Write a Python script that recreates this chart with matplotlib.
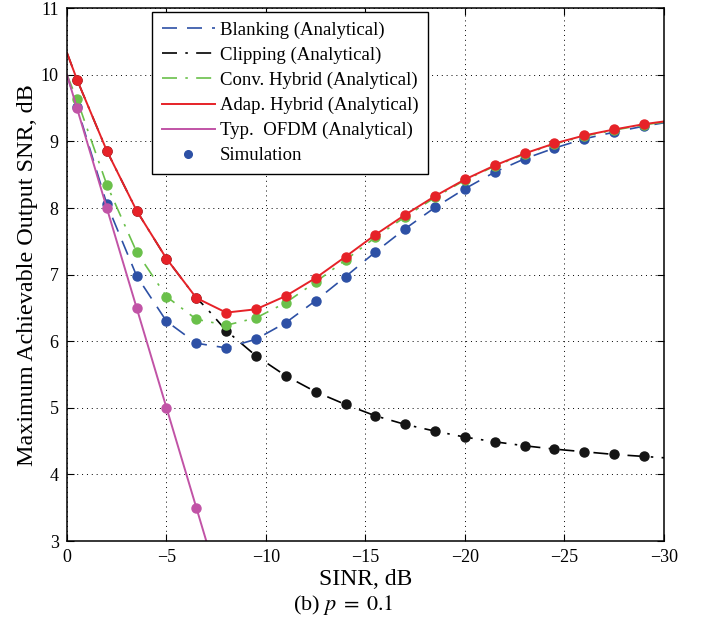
import numpy as np
import matplotlib
matplotlib.use("Agg")
import matplotlib.pyplot as plt

plt.rcParams['font.family'] = ['Liberation Serif', 'DejaVu Serif']
plt.rcParams['mathtext.fontset'] = 'stix'

# simulation grid (SINR in dB)
sinr_sim = [-0.5, -2, -3.5, -5, -6.5, -8, -9.5, -11, -12.5, -14,
            -15.5, -17, -18.5, -20, -21.5, -23, -24.5, -26, -27.5, -29]

# values at the simulation points
adap_sim = [9.93, 8.86, 7.96, 7.24, 6.65, 6.43, 6.48, 6.68, 6.95, 7.27,
            7.60, 7.90, 8.18, 8.43, 8.64, 8.82, 8.97, 9.09, 9.18, 9.26]
blank_sim = [9.52, 8.06, 6.98, 6.30, 5.97, 5.90, 6.03, 6.28, 6.61, 6.97,
             7.34, 7.69, 8.01, 8.29, 8.54, 8.74, 8.90, 9.04, 9.14, 9.23]
conv_sim = [9.63, 8.35, 7.34, 6.67, 6.33, 6.24, 6.35, 6.58, 6.89, 7.22,
            7.56, 7.87, 8.16, 8.42, 8.63, 8.81, 8.96, 9.08, 9.17, 9.25]
clip_sim = [9.93, 8.86, 7.96, 7.24, 6.65, 6.16, 5.78, 5.48, 5.24, 5.05,
            4.88, 4.75, 4.65, 4.56, 4.49, 4.43, 4.38, 4.34, 4.30, 4.27]
ofdm_x = [-0.5, -2, -3.5, -5, -6.5]
ofdm_sim = [9.5, 8.0, 6.5, 5.0, 3.5]

# analytical curves: same grid plus the ends of the axis
sinr_ana = [0] + sinr_sim + [-30]
adap_ana = [10.33] + adap_sim + [9.30]
blank_ana = [10.0] + blank_sim + [9.28]
conv_ana = [10.0] + conv_sim + [9.29]
clip_ana = [10.33] + clip_sim[:5] + [6.50] + clip_sim[5:] + [4.25]
clip_ana_x = [0] + sinr_sim[:5] + [-7] + sinr_sim[5:] + [-30]
ofdm_ana_x = [0, -0.5, -2, -3.5, -5, -6.5, -7]
ofdm_ana = [10.0, 9.5, 8.0, 6.5, 5.0, 3.5, 3.0]

c_blue = '#2d50a5'
c_green = '#6ac04a'
c_red = '#e62228'
c_mag = '#c153a6'

dashdot = (0, (9, 5, 1.5, 5))
dashed = (0, (9, 6))

fig = plt.figure(figsize=(7.01, 6.35), dpi=100)
ax = fig.add_axes([0.0956, 0.148, 0.8515, 0.839])

ms = 6.5
ax.plot(clip_ana_x, clip_ana, color='black', ls=dashdot, lw=1.2,
        label='Clipping (Analytical)')
ax.plot(sinr_sim, clip_sim, 'o', color='#151515', ms=ms)
ax.plot(sinr_ana, blank_ana, color=c_blue, ls=dashed, lw=1.2,
        label='Blanking (Analytical)')
ax.plot(sinr_sim, blank_sim, 'o', color=c_blue, ms=ms)
ax.plot(sinr_ana, conv_ana, color=c_green, ls=dashdot, lw=1.2,
        label='Conv. Hybrid (Analytical)')
ax.plot(sinr_sim, conv_sim, 'o', color=c_green, ms=ms)
ax.plot(sinr_ana, adap_ana, color=c_red, ls='-', lw=1.4,
        label='Adap. Hybrid (Analytical)')
ax.plot(sinr_sim, adap_sim, 'o', color=c_red, ms=ms)
ax.plot(ofdm_ana_x, ofdm_ana, color=c_mag, ls='-', lw=1.4,
        label='Typ.  OFDM (Analytical)')
ax.plot(ofdm_x, ofdm_sim, 'o', color=c_mag, ms=ms)
ax.plot([], [], 'o', color=c_blue, ms=5.5, label='Simulation')

ax.set_xlim(0, -30)
ax.set_ylim(3, 11)
ax.set_xticks(np.arange(0, -31, -5))
ax.set_yticks(np.arange(3, 12, 1))
ax.tick_params(direction='in', top=True, right=True, labelsize=13, length=5, pad=6)
ax.grid(True, color='black', ls=(0, (1, 4)), lw=0.7)
for s in ax.spines.values():
    s.set_linewidth(1.1)

ax.set_xlabel('SINR, dB', fontsize=17, labelpad=2)
ax.set_ylabel('Maximum Achievable Output SNR, dB', fontsize=17.4, labelpad=2)

handles, labels = ax.get_legend_handles_labels()
order = ['Blanking (Analytical)', 'Clipping (Analytical)', 'Conv. Hybrid (Analytical)',
         'Adap. Hybrid (Analytical)', 'Typ.  OFDM (Analytical)', 'Simulation']
hmap = dict(zip(labels, handles))
leg = ax.legend([hmap[l] for l in order], order, loc='upper left',
                bbox_to_anchor=(0.143, 0.993), borderaxespad=0, fontsize=13.5,
                fancybox=False, edgecolor='black', framealpha=1,
                handlelength=2.85, handletextpad=0.25, labelspacing=0.42,
                borderpad=0.5)
leg.get_frame().set_linewidth(1.0)

fig.text(0.49, 1 - 605 / 635, r'(b) $p\;=\;0.1$', ha='center', va='center', fontsize=16)

fig.savefig('out.png', dpi=100)
